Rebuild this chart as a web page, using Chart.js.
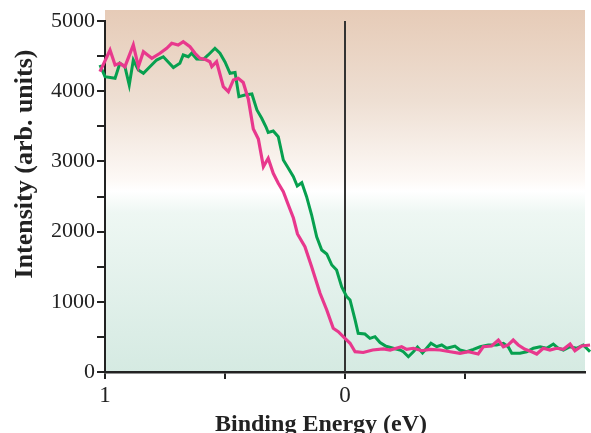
<!DOCTYPE html>
<html>
<head>
<meta charset="utf-8">
<script src="https://cdn.jsdelivr.net/npm/chart.js@4.4.1/dist/chart.umd.min.js"></script>
<style>
  html, body { margin: 0; padding: 0; background: #fff; }
  #wrap { width: 591px; height: 433px; }
</style>
</head>
<body>
<div id="wrap"><canvas id="chart" width="591" height="433"></canvas></div>
<script>
// values: binding energy (eV) and intensity (arb. units)
const pinkEnergy = [1.021, 0.979, 0.958, 0.938, 0.917, 0.882, 0.861, 0.840, 0.805, 0.771,
    0.743, 0.722, 0.695, 0.674, 0.646, 0.625, 0.604, 0.583, 0.563, 0.555,
    0.535, 0.507, 0.486, 0.465, 0.445, 0.424, 0.403, 0.382, 0.361, 0.340,
    0.320, 0.299, 0.278, 0.257, 0.236, 0.215, 0.198, 0.167, 0.139, 0.104,
    0.076, 0.049, 0.028, 0.000, -0.021, -0.042, -0.076, -0.115, -0.160, -0.188,
    -0.236, -0.257, -0.285, -0.320, -0.354, -0.396, -0.438, -0.479, -0.514, -0.555,
    -0.576, -0.611, -0.639, -0.660, -0.680, -0.701, -0.722, -0.750, -0.778, -0.799,
    -0.826, -0.854, -0.882, -0.910, -0.938, -0.958, -0.986, -1.021];
const pinkIntensity = [4278, 4587, 4373, 4397, 4349, 4658, 4349, 4563, 4469, 4540,
    4611, 4682, 4658, 4705, 4634, 4540, 4469, 4454, 4420, 4349,
    4420, 4064, 3993, 4160, 4184, 4124, 3889, 3462, 3319, 2925,
    3044, 2830, 2688, 2568, 2379, 2194, 1966, 1785, 1500, 1121,
    883, 622, 574, 480, 409, 289, 278, 313, 328, 313,
    360, 323, 338, 303, 323, 313, 289, 266, 289, 256,
    360, 370, 456, 360, 385, 456, 385, 323, 289, 256,
    338, 313, 338, 323, 399, 303, 370, 385];

const greenEnergy = [1.021, 1.000, 0.958, 0.938, 0.917, 0.899, 0.882, 0.861, 0.840, 0.813,
    0.785, 0.757, 0.715, 0.688, 0.674, 0.653, 0.639, 0.618, 0.590, 0.570,
    0.542, 0.521, 0.500, 0.479, 0.458, 0.442, 0.417, 0.388, 0.367, 0.347,
    0.329, 0.320, 0.299, 0.278, 0.257, 0.236, 0.215, 0.199, 0.180, 0.160,
    0.139, 0.118, 0.097, 0.076, 0.055, 0.035, 0.014, -0.007, -0.021, -0.042,
    -0.055, -0.083, -0.104, -0.125, -0.146, -0.171, -0.201, -0.229, -0.243, -0.264,
    -0.285, -0.302, -0.323, -0.358, -0.382, -0.403, -0.424, -0.458, -0.479, -0.507,
    -0.535, -0.563, -0.597, -0.632, -0.660, -0.680, -0.695, -0.729, -0.757, -0.785,
    -0.813, -0.840, -0.868, -0.889, -0.910, -0.938, -0.965, -0.993, -1.021];
const greenIntensity = [4373, 4207, 4184, 4397, 4349, 4088, 4444, 4302, 4255, 4349,
    4444, 4491, 4338, 4397, 4516, 4491, 4540, 4459, 4454, 4516,
    4611, 4540, 4416, 4255, 4266, 3922, 3946, 3960, 3732, 3614,
    3490, 3412, 3433, 3352, 3020, 2902, 2782, 2650, 2697, 2497,
    2236, 1927, 1738, 1681, 1524, 1453, 1215, 1073, 1026, 741,
    551, 541, 480, 503, 420, 366, 338, 313, 289, 218,
    289, 356, 271, 409, 360, 385, 338, 370, 313, 289,
    323, 360, 385, 385, 409, 360, 266, 266, 289, 338,
    360, 338, 399, 338, 313, 360, 338, 385, 289];

const xTicks = [1, 0.5, 0, -0.5];
const xLabels = ['1', '', '0', ''];
const yLabelStep = 1000;

const PINK = '#e8388d';
const GREEN = '#07a04f';
const INK = '#222';

function points(xs, ys) {
    return xs.map((x, i) => ({x: x, y: ys[i]}));
}

// gradient panel behind the plot, plus the E = 0 marker and the axis titles
const decor = {
    id: 'decor',
    beforeDraw(chart) {
        const {ctx, chartArea: a} = chart;
        const top = a.top - 11;
        const g = ctx.createLinearGradient(0, top, 0, a.bottom);
        g.addColorStop(0, '#e6cbb7');
        g.addColorStop(0.25, '#eedfd3');
        g.addColorStop(0.47, '#fdf9f6');
        g.addColorStop(0.5, '#ffffff');
        g.addColorStop(0.56, '#eef7f3');
        g.addColorStop(1, '#d5eae2');
        ctx.save();
        ctx.fillStyle = g;
        ctx.fillRect(a.left, top, a.right - a.left, a.bottom - top);
        ctx.restore();
    },
    beforeDatasetsDraw(chart) {
        const {ctx, chartArea: a, scales} = chart;
        const x0 = scales.x.getPixelForValue(0);
        ctx.save();
        ctx.strokeStyle = '#333';
        ctx.lineWidth = 2;
        ctx.beginPath();
        ctx.moveTo(x0, a.top);
        ctx.lineTo(x0, a.bottom);
        ctx.stroke();
        ctx.restore();
    },
    afterDraw(chart) {
        const {ctx} = chart;
        ctx.save();
        ctx.fillStyle = INK;
        ctx.textAlign = 'center';
        ctx.textBaseline = 'alphabetic';
        ctx.font = 'bold 24px "Liberation Serif"';
        ctx.fillText('Binding Energy (eV)', 321, 431);
        ctx.translate(32, 164);
        ctx.rotate(-Math.PI / 2);
        ctx.font = 'bold 26px "Liberation Serif"';
        ctx.fillText('Intensity (arb. units)', 0, 0);
        ctx.restore();
    }
};

new Chart(document.getElementById('chart'), {
    type: 'line',
    data: {
        datasets: [{
            label: 'pink',
            data: points(pinkEnergy, pinkIntensity),
            borderColor: PINK,
            borderWidth: 3.2,
            pointRadius: 0,
            tension: 0,
            clip: false
        }, {
            label: 'green',
            data: points(greenEnergy, greenIntensity),
            borderColor: GREEN,
            borderWidth: 3,
            pointRadius: 0,
            tension: 0,
            clip: false
        }]
    },
    options: {
        responsive: false,
        animation: false,
        layout: {padding: {left: 0, right: 6, top: 21, bottom: 0}},
        plugins: {legend: {display: false}, tooltip: {enabled: false}},
        scales: {
            x: {
                type: 'linear',
                reverse: true,
                min: -1,
                max: 1,
                afterBuildTicks: scale => {
                    scale.ticks = xTicks.map(v => ({value: v}));
                },
                afterFit: scale => { scale.height = 61; },
                border: {color: INK, width: 2.5},
                grid: {drawOnChartArea: false, tickLength: 7, color: INK, lineWidth: 2},
                ticks: {
                    color: INK,
                    padding: 3,
                    maxRotation: 0,
                    autoSkip: false,
                    font: {family: 'Liberation Serif', size: 23},
                    callback: (v) => xLabels[xTicks.indexOf(v)] ?? ''
                }
            },
            y: {
                min: 0,
                max: 5000,
                afterFit: scale => { scale.width = 105; },
                border: {color: INK, width: 2},
                grid: {drawOnChartArea: false, tickLength: 8, color: INK, lineWidth: 2},
                ticks: {
                    stepSize: 500,
                    color: INK,
                    padding: 2,
                    autoSkip: false,
                    font: {family: 'Liberation Serif', size: 22},
                    callback: (v) => v % yLabelStep === 0 ? String(v) : ''
                }
            }
        }
    },
    plugins: [decor]
});
</script>
</body>
</html>
